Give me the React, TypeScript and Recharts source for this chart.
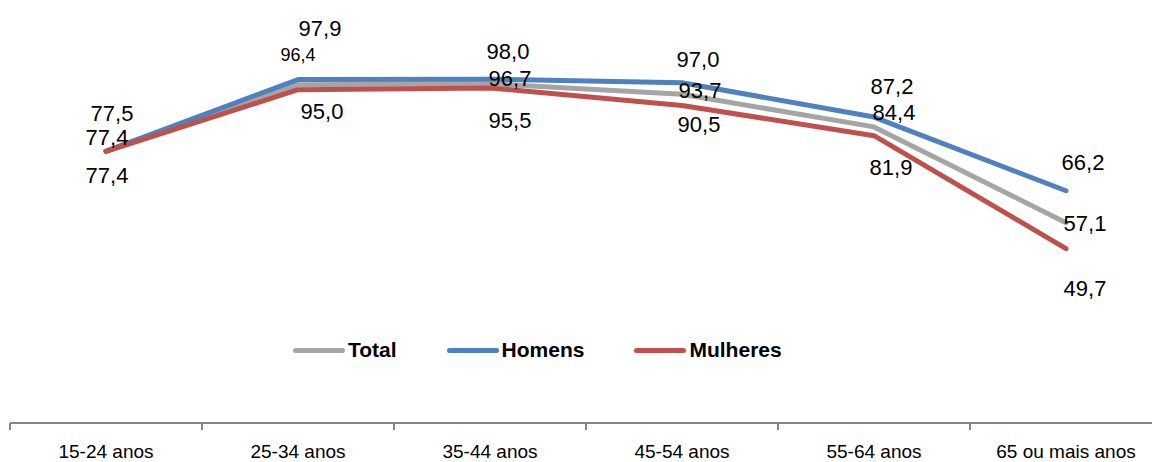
import { LineChart, Line, XAxis, YAxis, LabelList } from 'recharts'

// faixas etárias
const categories = ['15-24 anos', '25-34 anos', '35-44 anos', '45-54 anos', '55-64 anos', '65 ou mais anos']

const total = [77.4, 96.4, 96.7, 93.7, 84.4, 57.1]
const homens = [77.5, 97.9, 98.0, 97.0, 87.2, 66.2]
const mulheres = [77.4, 95.0, 95.5, 90.5, 81.9, 49.7]

const data = categories.map((name, i) => ({
  name,
  Total: total[i],
  Homens: homens[i],
  Mulheres: mulheres[i],
}))

const CHART_W = 1162
const CHART_H = 462
const MARGIN = { top: 2, right: 0, left: 10, bottom: 0 }
const HALF_BAND = (CHART_W - MARGIN.left - MARGIN.right) / categories.length / 2

const COLORS = { Total: '#A5A5A5', Homens: '#4F81BD', Mulheres: '#C0504D' }
const FONT = '"Liberation Sans", Arial, sans-serif'

// deslocamento manual de cada rótulo (como no Excel)
const LABEL_OFFSETS: Record<string, [number, number, number?][]> = {
  Total: [[1, -14], [0, -30, 18], [20, -5], [18, -4], [20, -14], [19, 1]],
  Homens: [[6, -38], [22, -51], [18, -28], [16, -23], [18, -31], [17, -28]],
  Mulheres: [[1, 24], [24, 22], [20, 33], [17, 19], [17, 32], [19, 40]],
}

const fmt = (v: number) => v.toFixed(1).replace('.', ',')

const makeLabel = (key: string) => (props: any) => {
  const { x, y, value, index } = props
  const [dx, dy, size] = LABEL_OFFSETS[key][index]
  return (
    <text
      x={x + dx}
      y={y + dy}
      textAnchor="middle"
      dominantBaseline="central"
      fontFamily={FONT}
      fontSize={size ?? 22}
      fill="#000"
    >
      {fmt(value)}
    </text>
  )
}

const CategoryTick = (props: any) => {
  const { x, y, payload, index } = props
  return (
    <g>
      <line x1={x - HALF_BAND} y1={y} x2={x - HALF_BAND} y2={y + 7} stroke="#868686" strokeWidth={2} />
      {index === categories.length - 1 && (
        <line x1={x + HALF_BAND} y1={y} x2={x + HALF_BAND} y2={y + 7} stroke="#868686" strokeWidth={2} />
      )}
      <text x={x} y={y + 35} textAnchor="middle" fontFamily={FONT} fontSize={19} fill="#000">
        {payload.value}
      </text>
    </g>
  )
}

const SERIES = ['Total', 'Homens', 'Mulheres'] as const

export default function App() {
  return (
    <div style={{ position: 'absolute', left: 0, top: 0, width: 1152, height: 462, overflow: 'hidden', background: '#fff' }}>
      <LineChart width={CHART_W} height={CHART_H} data={data} margin={MARGIN}>
        <XAxis
          dataKey="name"
          height={39}
          axisLine={{ stroke: '#868686', strokeWidth: 2 }}
          tickLine={false}
          tickSize={0}
          tickMargin={0}
          tick={<CategoryTick />}
          interval={0}
          padding={{ left: HALF_BAND, right: HALF_BAND }}
        />
        <YAxis hide domain={[0, 120]} />
        {SERIES.map((k) => (
          <Line
            key={k}
            type="linear"
            dataKey={k}
            stroke={COLORS[k]}
            strokeWidth={5}
            strokeLinecap="round"
            strokeLinejoin="round"
            dot={false}
            activeDot={false}
            isAnimationActive={false}
          >
            <LabelList dataKey={k} content={makeLabel(k)} />
          </Line>
        ))}
      </LineChart>
      {/* legenda */}
      <div style={{ position: 'absolute', left: 293, top: 338, display: 'flex', alignItems: 'center', gap: 50, fontFamily: FONT }}>
        {SERIES.map((k) => (
          <div key={k} style={{ display: 'flex', alignItems: 'center', gap: 3 }}>
            <div style={{ width: 52, height: 5, borderRadius: 3, background: COLORS[k] }} />
            <span style={{ fontWeight: 'bold', fontSize: 21, color: '#000' }}>{k}</span>
          </div>
        ))}
      </div>
    </div>
  )
}
